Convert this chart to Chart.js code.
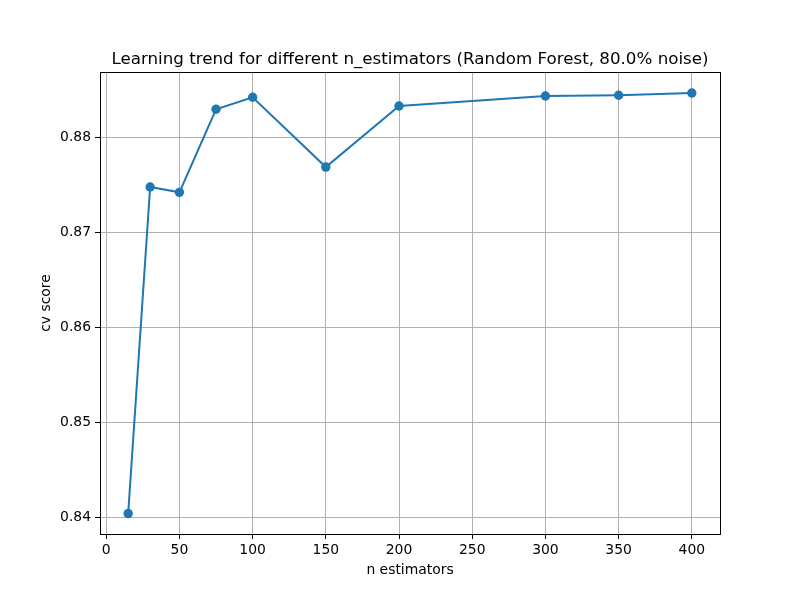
<!DOCTYPE html>
<html>
<head>
<meta charset="utf-8">
<script src="https://cdn.jsdelivr.net/npm/chart.js@4/dist/chart.umd.min.js"></script>
<style>
html,body{margin:0;padding:0;background:#fff;}
#wrap{width:800px;height:600px;position:relative;}
</style>
</head>
<body>
<div id="wrap"><canvas id="c" width="800" height="600"></canvas></div>
<script>
const nEstimators = [15, 30, 50, 75, 100, 150, 200, 300, 350, 400];
const cvScores = [0.84039, 0.87474, 0.87418, 0.88292, 0.88418, 0.87684, 0.88326, 0.88432, 0.88439, 0.88463];
const titleText = 'Learning trend for different n_estimators (Random Forest, 80.0% noise)';
const xLabel = 'n estimators';
const yLabel = 'cv score';

const points = nEstimators.map((x, i) => ({x: x, y: cvScores[i]}));

const frame = {
  id: 'frame',
  afterDraw(chart) {
    const a = chart.chartArea, ctx = chart.ctx;
    ctx.save();
    ctx.strokeStyle = '#000';
    ctx.lineWidth = 1;
    ctx.strokeRect(Math.round(a.left) + 0.5, Math.round(a.top) + 0.5, Math.round(a.right - a.left), Math.round(a.bottom - a.top));
    ctx.fillStyle = '#000';
    ctx.font = '16.7px "DejaVu Sans"';
    ctx.textAlign = 'center';
    ctx.textBaseline = 'alphabetic';
    ctx.fillText(titleText, (a.left + a.right) / 2, a.top - 8);
    ctx.restore();
  }
};

const font = {family: 'DejaVu Sans', size: 13.9};
new Chart(document.getElementById('c'), {
  type: 'line',
  data: {
    datasets: [{
      data: points,
      borderColor: '#1f77b4',
      backgroundColor: '#1f77b4',
      borderWidth: 2,
      pointRadius: 4.7,
      pointHoverRadius: 4.7,
      pointBorderWidth: 0,
      tension: 0,
      fill: false
    }]
  },
  options: {
    responsive: false,
    animation: false,
    devicePixelRatio: 1,
    layout: {padding: {left: 0, right: 80, top: 72, bottom: 0}},
    plugins: {
      legend: {display: false},
      tooltip: {enabled: false},
      title: {display: false}
    },
    scales: {
      x: {
        type: 'linear',
        min: -4.25,
        max: 419.25,
        afterFit(s) { s.height = 66; },
        ticks: {
          stepSize: 50,
          includeBounds: false,
          color: '#000',
          font: font,
          padding: 3,
          maxRotation: 0,
          callback: v => String(v)
        },
        grid: {color: '#b0b0b0', lineWidth: 1, tickColor: '#000', tickLength: 5, drawTicks: true},
        border: {display: false},
        title: {display: true, text: xLabel, color: '#000', font: font, padding: {top: 0, bottom: 21}}
      },
      y: {
        type: 'linear',
        min: 0.83824,
        max: 0.88684,
        afterFit(s) { s.width = 100; },
        ticks: {
          stepSize: 0.01,
          includeBounds: false,
          color: '#000',
          font: font,
          padding: 4,
          callback: v => v.toFixed(2)
        },
        grid: {color: '#b0b0b0', lineWidth: 1, tickColor: '#000', tickLength: 5, drawTicks: true},
        border: {display: false},
        title: {display: true, text: yLabel, color: '#000', font: font, padding: {top: 38, bottom: 0}}
      }
    }
  },
  plugins: [frame]
});
</script>
</body>
</html>
